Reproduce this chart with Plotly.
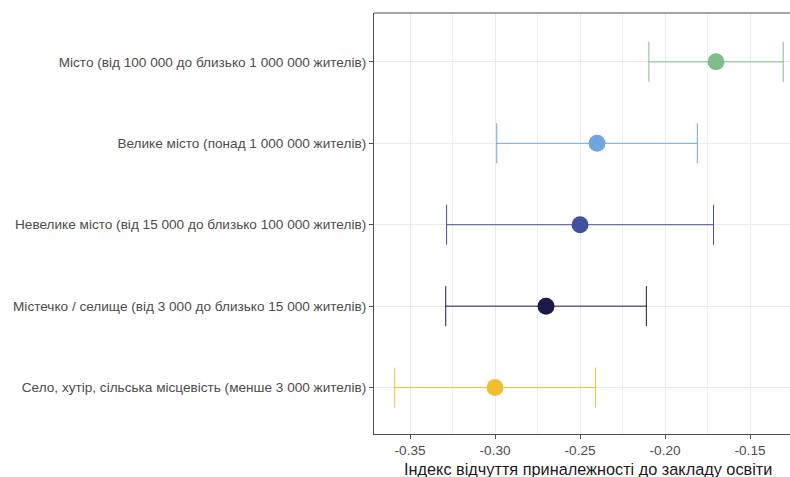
import plotly.graph_objects as go

categories = [
    "Село, хутір, сільська місцевість (менше 3 000 жителів)",
    "Містечко / селище (від 3 000 до близько 15 000 жителів)",
    "Невелике місто (від 15 000 до близько 100 000 жителів)",
    "Велике місто (понад 1 000 000 жителів)",
    "Місто (від 100 000 до близько 1 000 000 жителів)",
]
estimate = [-0.300, -0.270, -0.250, -0.240, -0.170]
lower = [-0.359, -0.329, -0.3285, -0.299, -0.2095]
upper = [-0.241, -0.211, -0.1715, -0.181, -0.1305]
colors = ["#F0BF30", "#1B1A48", "#3E52A0", "#6FA7DD", "#7FBE8A"]

x_ticks = [-0.35, -0.30, -0.25, -0.20, -0.15]
x_ticklabels = ["-0.35", "-0.30", "-0.25", "-0.20", "-0.15"]
x_title = "Індекс відчуття приналежності до закладу освіти"

fig = go.Figure()
for cat, est, lo, hi, col in zip(categories, estimate, lower, upper, colors):
    fig.add_trace(go.Scatter(
        x=[est], y=[cat], mode="markers",
        marker=dict(size=17, color=col, line=dict(width=0)),
        error_x=dict(type="data", symmetric=False,
                     array=[hi - est], arrayminus=[est - lo],
                     color=col, thickness=1, width=20),
        showlegend=False, hoverinfo="skip",
    ))

font = "Liberation Sans, Arial, sans-serif"
fig.update_layout(
    width=790, height=477,
    margin=dict(l=374, r=0, t=13, b=43),
    paper_bgcolor="white", plot_bgcolor="white",
    font=dict(family=font),
    xaxis=dict(
        range=[-0.3712, -0.1265],
        tickvals=x_ticks, ticktext=x_ticklabels,
        showgrid=True, gridcolor="#EBEBEB", gridwidth=1,
        minor=dict(dtick=0.025, tick0=-0.375, showgrid=True, gridcolor="#F2F2F2", gridwidth=1),
        zeroline=False,
        showline=True, linecolor="#4D4D4D", linewidth=1.2,
        ticks="outside", ticklen=4, tickcolor="#4D4D4D", tickwidth=1,
        tickfont=dict(size=13.6, color="#4D4D4D", family=font),
    ),
    yaxis=dict(
        categoryorder="array", categoryarray=categories,
        range=[-0.57, 4.6],
        showgrid=True, gridcolor="#EBEBEB", gridwidth=1,
        zeroline=False,
        showline=True, linecolor="#4D4D4D", linewidth=1.2,
        ticks="outside", ticklen=4, tickcolor="#4D4D4D", tickwidth=1,
        tickfont=dict(size=13.6, color="#4D4D4D", family=font),
    ),
    shapes=[dict(type="line", xref="paper", yref="paper", x0=0, x1=1, y0=1, y1=1,
                 line=dict(color="#4D4D4D", width=1.2))],
    annotations=[dict(text=x_title, xref="paper", yref="paper",
                      x=(588 - 374) / (790 - 374), y=-(469 - 434) / (434 - 13),
                      xanchor="center", yanchor="middle", showarrow=False,
                      font=dict(size=16.3, color="#1A1A1A", family=font))],
)

fig.write_html(
    "out.html",
    config={"displayModeBar": False},
    post_script="document.body.style.margin='0';document.body.style.overflow='hidden';",
)
